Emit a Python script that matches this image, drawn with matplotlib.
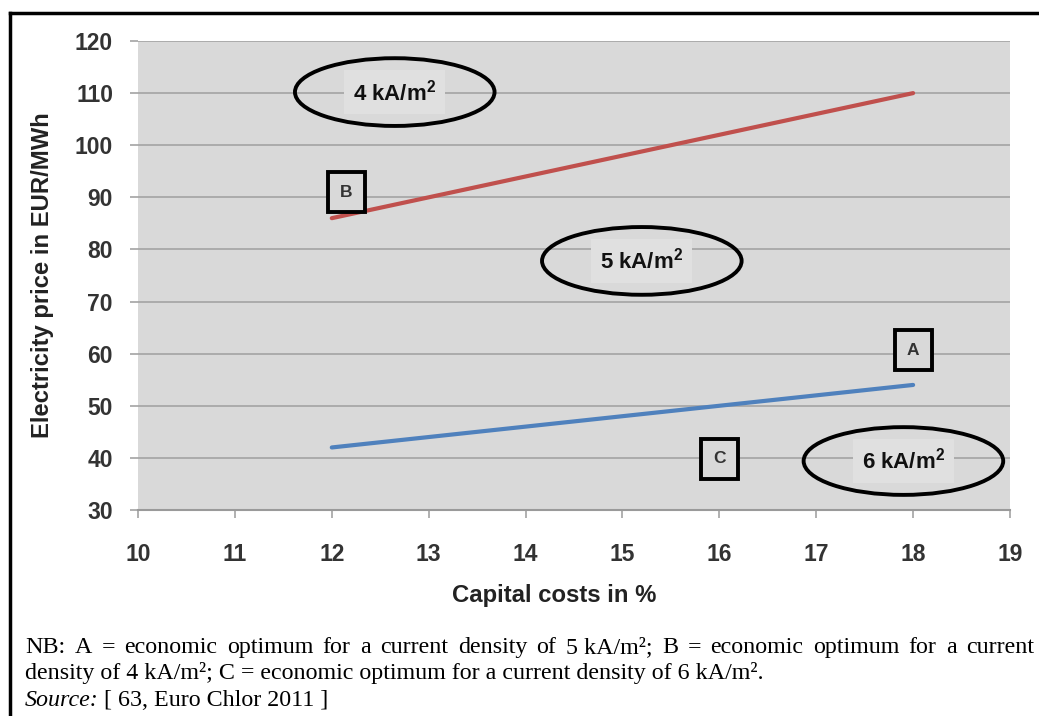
import matplotlib.pyplot as plt
from matplotlib.patches import Ellipse
from matplotlib.lines import Line2D

# data
capital_costs = [12, 18]
price_4ka = [86, 110]   # red line (4 kA/m2 optimum boundary)
price_5ka = [42, 54]    # blue line

x_ticks = list(range(10, 20))
y_ticks = list(range(30, 121, 10))

# region labels: (text, x, y)
regions = [("4 kA/m$^2$", 12.65, 110.2), ("5 kA/m$^2$", 15.2, 77.8), ("6 kA/m$^2$", 17.9, 39.4)]
# optimum markers: (letter, x, y)
optima = [("B", 12.15, 91.0), ("A", 18.0, 60.7), ("C", 16.0, 39.8)]

caption_line1 = ["NB:", "A", "=", "economic", "optimum", "for", "a", "current", "density",
                 "of", "5 kA/m²;", "B", "=", "economic", "optimum", "for", "a", "current"]
caption_line2 = "density of 4 kA/m²; C = economic optimum for a current density of 6 kA/m²."

plt.rcParams["mathtext.fontset"] = "custom"
plt.rcParams["mathtext.rm"] = "Liberation Sans:bold"
plt.rcParams["mathtext.bf"] = "Liberation Sans:bold"
plt.rcParams["mathtext.it"] = "Liberation Sans:bold:italic"

W, H = 1039, 716
fig = plt.figure(figsize=(W / 100, H / 100), dpi=100)
ax = fig.add_axes([138 / W, 1 - 510 / H, (1010 - 138) / W, (510 - 41) / H])

sans = "Liberation Sans"
serif = "Liberation Serif"
bg = "#d9d9d9"

ax.set_facecolor(bg)
ax.set_xlim(10, 19)
ax.set_ylim(30, 120)
ax.set_xticks(x_ticks)
ax.set_yticks(y_ticks)
ax.grid(True, axis="y", color="#a3a3a3", linewidth=1.2)
ax.set_axisbelow(True)
for side in ["top", "right", "left"]:
    ax.spines[side].set_visible(False)
ax.spines["bottom"].set_color("#9a9a9a")
ax.spines["bottom"].set_linewidth(1.5)
ax.tick_params(axis="y", length=6, width=1.2, color="#a3a3a3", pad=12)
ax.tick_params(axis="x", length=6, width=1.2, color="#a3a3a3", pad=18)
for lab in ax.get_xticklabels() + ax.get_yticklabels():
    lab.set_fontfamily(sans)
    lab.set_fontweight("bold")
    lab.set_fontsize(16.5)
    lab.set_color("#333333")

ax.plot(capital_costs, price_4ka, color="#c0504d", linewidth=3, solid_capstyle="round")
ax.plot(capital_costs, price_5ka, color="#4f81bd", linewidth=3, solid_capstyle="round")

for text, x, y in regions:
    ax.add_patch(Ellipse((x, y), 2.06, 13, facecolor="none", edgecolor="black", linewidth=2.8, zorder=4))
    ax.text(x, y, text, ha="center", va="center", fontsize=16, family=sans, fontweight="bold",
            color="#111111", zorder=5,
            bbox=dict(boxstyle="square,pad=0.4", facecolor="#e0e0e0", edgecolor="none"))

for letter, x, y in optima:
    ax.text(x, y, letter, ha="center", va="center", fontsize=12.5, family=sans, fontweight="bold",
            color="#333333", zorder=5,
            bbox=dict(boxstyle="square,pad=0.7", facecolor=bg, edgecolor="black", linewidth=2.8))

ax.set_ylabel("Electricity price in EUR/MWh", fontsize=17.2, family=sans, fontweight="bold", color="#222222")
ax.yaxis.set_label_coords(-0.096, 0.5)
ax.set_xlabel("Capital costs in %", fontsize=17.2, family=sans, fontweight="bold", color="#222222")
ax.xaxis.set_label_coords(0.477, -0.157)

# frame around the figure (left and top edges only are visible)
fig.add_artist(Line2D([10 / W, 10 / W], [0, 1 - 13 / H], color="black", linewidth=2.5))
fig.add_artist(Line2D([10 / W, 1], [1 - 13 / H, 1 - 13 / H], color="black", linewidth=2.5))

# justified caption, first line
renderer = fig.canvas.get_renderer()
cap_size = 17.3
x0, x1 = 25, 1034
texts = [fig.text(0, 1 - 653 / H, w, fontsize=cap_size, family=serif, va="baseline") for w in caption_line1]
widths = [t.get_window_extent(renderer).width for t in texts]
gap = (x1 - x0 - sum(widths)) / (len(texts) - 1)
pos = x0
for t, w in zip(texts, widths):
    t.set_x(pos / W)
    pos += w + gap

fig.text(x0 / W, 1 - 679 / H, caption_line2, fontsize=cap_size, family=serif, va="baseline")

src = fig.text(x0 / W, 1 - 706 / H, "Source:", fontsize=cap_size, family=serif, style="italic", va="baseline")
sw = src.get_window_extent(renderer).width
fig.text((x0 + sw + 5) / W, 1 - 706 / H, "[ 63, Euro Chlor 2011 ]", fontsize=cap_size, family=serif,
         va="baseline")

fig.savefig("out.png", dpi=100)
